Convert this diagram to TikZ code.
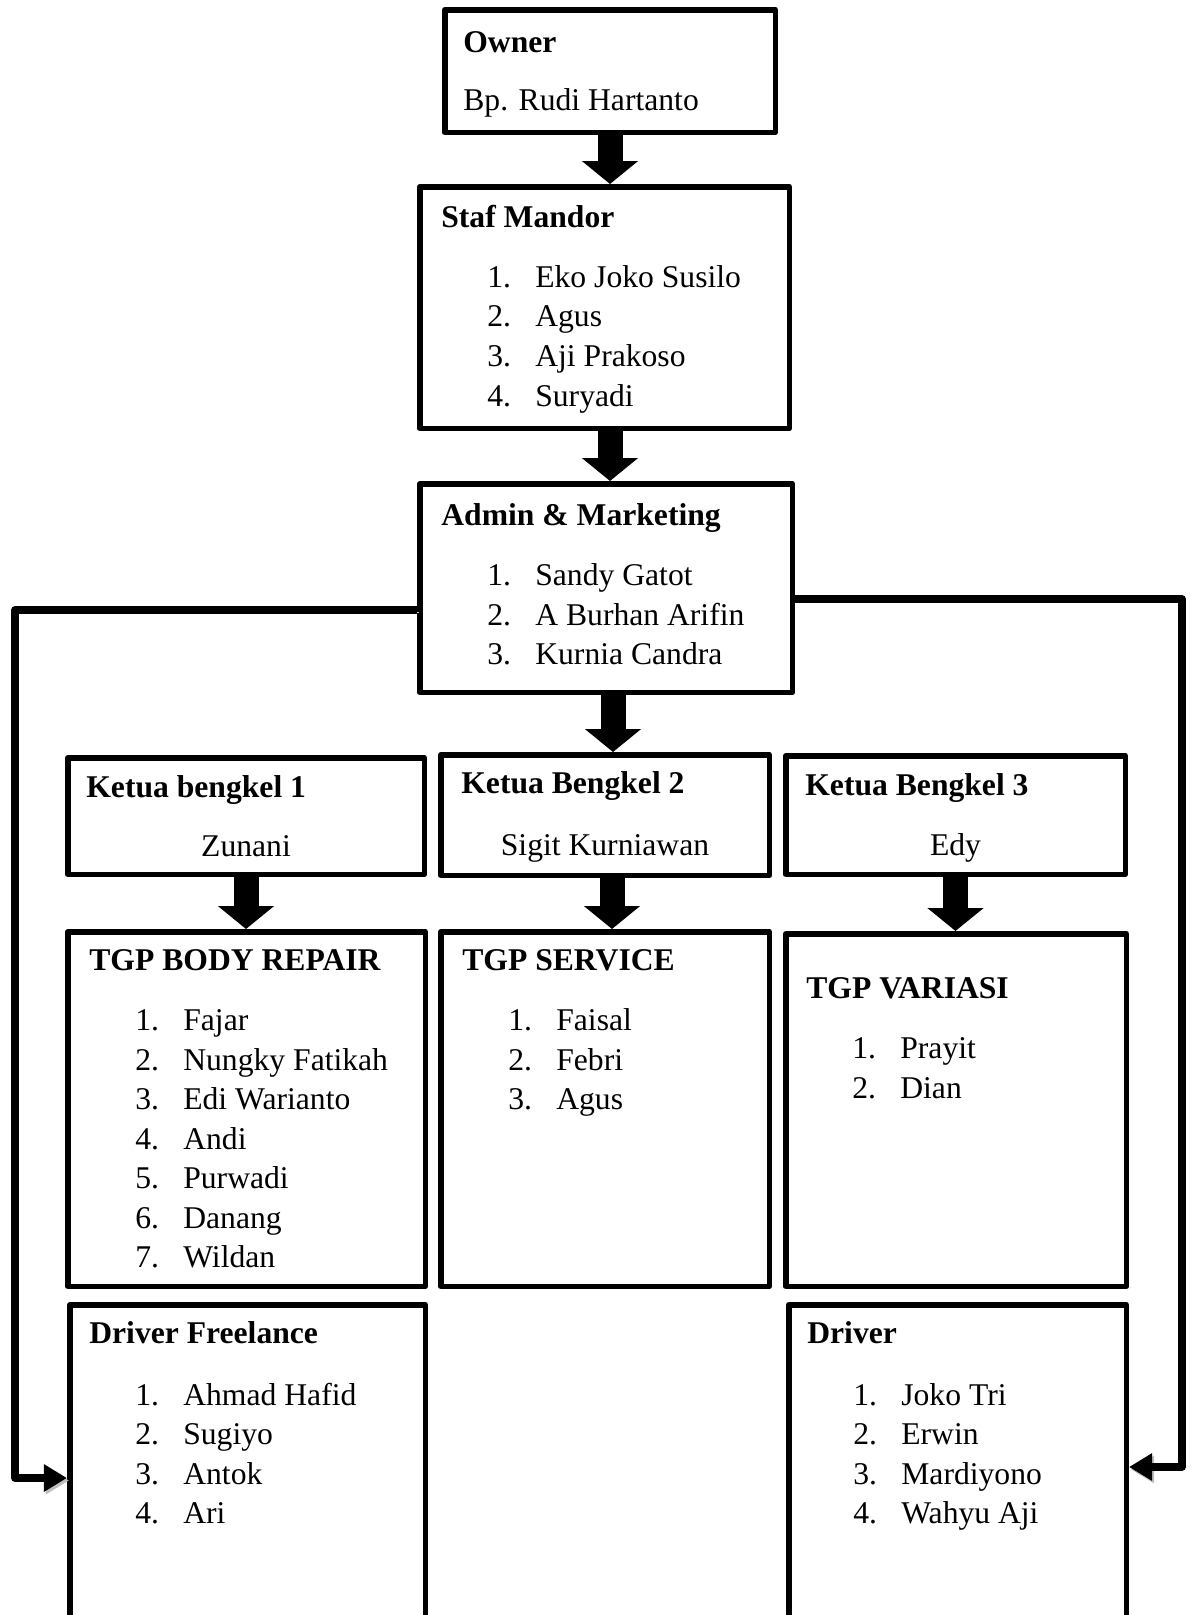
\documentclass[tikz,border=0pt]{standalone}
\usepackage{fontspec}
\setmainfont{Liberation Serif}
\usetikzlibrary{arrows.meta,calc}

% numbered entry inside a box
\newcommand{\itm}[2]{\hspace*{0.92cm}\makebox[0.96cm][l]{#1.}#2}

\tikzset{
  box/.style={rectangle,draw=black,line width=0.11cm,line join=round,inner sep=0pt},
  txt/.style={anchor=north west,inner sep=0pt,align=left},
  nametxt/.style={anchor=base,inner sep=0pt},
  fat/.style={line width=0.5cm,-{Triangle[length=0.46cm,width=1.1cm]}},
  elbow/.style={line width=0.15cm,line join=round,-{Triangle[length=0.46cm,width=0.52cm]},
    preaction={draw=black!25,transform canvas={xshift=0.04cm,yshift=-0.05cm}}}
}

\begin{document}
\begin{tikzpicture}[font=\fontsize{18pt}{22.5pt}\selectfont]
    \path[use as bounding box,clip] (0,0) rectangle (23.82,-32.3);

    % main modules
      \node[box,minimum width=6.61cm,minimum height=2.45cm] (owner) at (12.2,-1.42) {};
      \node[box,minimum width=7.39cm,minimum height=4.83cm] (staf) at (12.09,-6.15) {};
      \node[box,minimum width=7.45cm,minimum height=4.17cm] (admin) at (12.12,-11.76) {};
      % ketua bengkel
      \node[box,minimum width=7.13cm,minimum height=2.33cm] (k1) at (4.92,-16.32) {};
      \node[box,minimum width=6.57cm,minimum height=2.41cm] (k2) at (12.1,-16.3) {};
      \node[box,minimum width=6.79cm,minimum height=2.37cm] (k3) at (19.11,-16.3) {};
      % teams
      \node[box,minimum width=7.15cm,minimum height=7.09cm] (body) at (4.93,-22.18) {};
      \node[box,minimum width=6.57cm,minimum height=7.09cm] (serv) at (12.1,-22.18) {};
      \node[box,minimum width=6.81cm,minimum height=7.05cm] (var) at (19.12,-22.2) {};
      % drivers
      \node[box,minimum width=7.11cm,minimum height=7.05cm] (df) at (4.95,-29.62) {};
      \node[box,minimum width=6.75cm,minimum height=7.05cm] (drv) at (19.15,-29.62) {};

    % texts
      \node[txt] (ownerT) at (9.26,-0.49) {\strut\textbf{Owner}\\[10.5pt]Bp. Rudi Hartanto};
      \node[txt] (stafT) at (8.82,-3.99) {\strut\textbf{Staf Mandor}\\[11.6pt]
        \itm{1}{Eko Joko Susilo}\\\itm{2}{Agus}\\\itm{3}{Aji Prakoso}\\\itm{4}{Suryadi}};
      \node[txt] (adminT) at (8.82,-9.95) {\strut\textbf{Admin \& Marketing}\\[11.6pt]
        \itm{1}{Sandy Gatot}\\\itm{2}{A Burhan Arifin}\\\itm{3}{Kurnia Candra}};

      \node[txt] (k1T) at (1.72,-15.39) {\strut\textbf{Ketua bengkel 1}};
      \node[txt] (k2T) at (9.22,-15.31) {\strut\textbf{Ketua Bengkel 2}};
      \node[txt] (k3T) at (16.1,-15.35) {\strut\textbf{Ketua Bengkel 3}};
      \node[nametxt] (k1N) at (4.92,-17.12) {Zunani};
      \node[nametxt] (k2N) at (12.1,-17.1) {Sigit Kurniawan};
      \node[nametxt] (k3N) at (19.11,-17.1) {Edy};

      \node[txt] (bodyT) at (1.78,-18.85) {\strut\textbf{TGP BODY REPAIR}\\[11.6pt]
        \itm{1}{Fajar}\\\itm{2}{Nungky Fatikah}\\\itm{3}{Edi Warianto}\\\itm{4}{Andi}\\
        \itm{5}{Purwadi}\\\itm{6}{Danang}\\\itm{7}{Wildan}};
      \node[txt] (servT) at (9.24,-18.85) {\strut\textbf{TGP SERVICE}\\[11.6pt]
        \itm{1}{Faisal}\\\itm{2}{Febri}\\\itm{3}{Agus}};
      \node[txt] (varT) at (16.12,-19.41) {\strut\textbf{TGP VARIASI}\\[11.6pt]
        \itm{1}{Prayit}\\\itm{2}{Dian}};

      \node[txt] (dfT) at (1.78,-26.31) {\strut\textbf{Driver Freelance}\\[12.5pt]
        \itm{1}{Ahmad Hafid}\\\itm{2}{Sugiyo}\\\itm{3}{Antok}\\\itm{4}{Ari}};
      \node[txt] (drvT) at (16.14,-26.31) {\strut\textbf{Driver}\\[12.5pt]
        \itm{1}{Joko Tri}\\\itm{2}{Erwin}\\\itm{3}{Mardiyono}\\\itm{4}{Wahyu Aji}};

    % block arrows
      \coordinate (ak) at ([xshift=0.14cm]admin.south);
      \coordinate (ks) at ([xshift=0.14cm]k2.south);
      \draw[fat] (owner.south) -- (owner.south |- staf.north);
      \draw[fat] (staf.south -| owner.south) -- (admin.north -| owner.south);
      \draw[fat] (ak) -- (ak |- k2.north);
      \draw[fat] (k1.south) -- (k1.south |- body.north);
      \draw[fat] (ks) -- (ks |- serv.north);
      \draw[fat] (k3.south) -- (k3.south |- var.north);

    % side lines to the drivers
      \coordinate (lbend) at (0.3,-12.2);
      \coordinate (rbend) at (23.64,-11.98);
      \draw[elbow] (admin.west |- lbend) -- (lbend) |- ([yshift=0.06cm]df.west);
      \draw[elbow] (admin.east |- rbend) -- (rbend) |- ([yshift=0.28cm]drv.east);

\end{tikzpicture}
\end{document}
